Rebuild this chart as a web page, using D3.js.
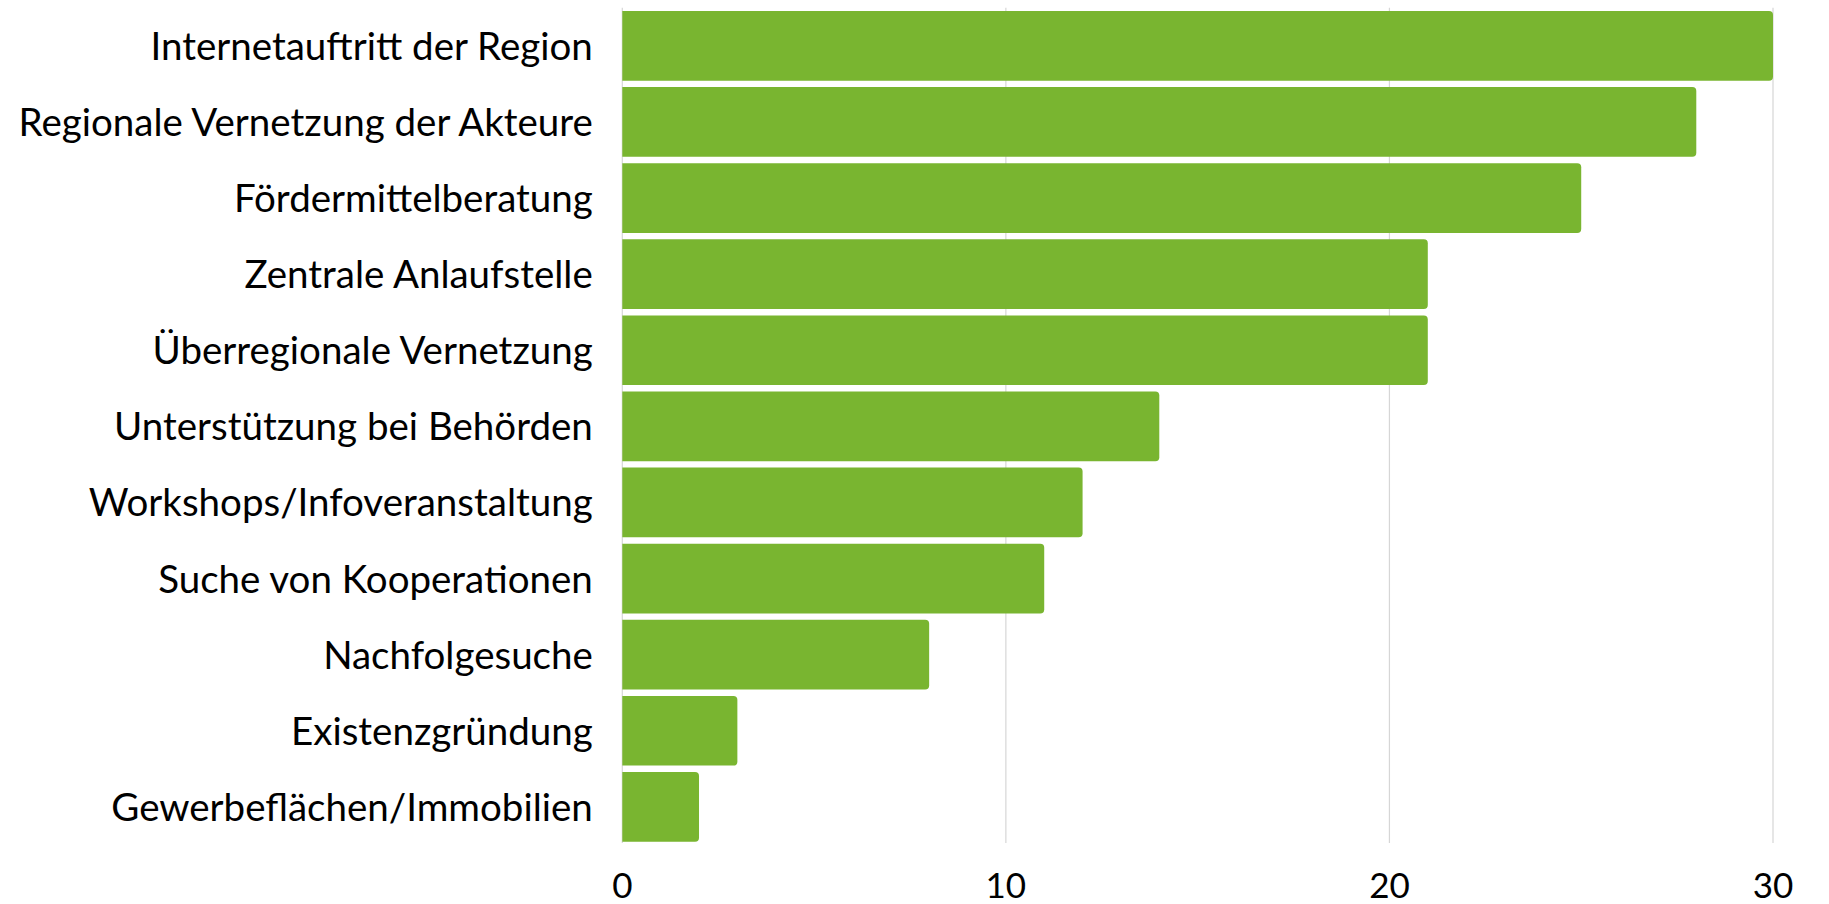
<!DOCTYPE html>
<html>
<head>
<meta charset="utf-8">
<script src="https://cdn.jsdelivr.net/npm/d3@7"></script>
<style>
  html, body { margin: 0; padding: 0; background: #fff; }
  svg { display: block; }
  text { font-family: "Source Sans Pro", Lato, "Noto Sans", sans-serif; fill: #000; }
</style>
</head>
<body>
<svg id="chart" width="1829" height="904"></svg>
<script>
// Angebote, sortiert nach Anzahl der Nennungen
const categories = [
  "Internetauftritt der Region",
  "Regionale Vernetzung der Akteure",
  "Fördermittelberatung",
  "Zentrale Anlaufstelle",
  "Überregionale Vernetzung",
  "Unterstützung bei Behörden",
  "Workshops/Infoveranstaltung",
  "Suche von Kooperationen",
  "Nachfolgesuche",
  "Existenzgründung",
  "Gewerbeflächen/Immobilien"
];
const values = [30, 28, 25, 21, 21, 14, 12, 11, 8, 3, 2];
const tickValues = [0, 10, 20, 30];

const svg = d3.select("#chart");
const plot = { left: 622.3, right: 1773, top: 7.8, bottom: 844.9 };

const x = d3.scaleLinear().domain([0, 30]).range([plot.left, plot.right]);
const y = d3.scaleBand()
  .domain(categories)
  .range([plot.top, plot.bottom])
  .paddingInner(0.084)
  .paddingOuter(0.042);

// vertical grid lines
svg.append("g")
  .selectAll("line")
  .data(tickValues)
  .join("line")
  .attr("x1", d => x(d)).attr("x2", d => x(d))
  .attr("y1", plot.top).attr("y2", plot.bottom - 2)
  .attr("stroke", "#d6d6d6")
  .attr("stroke-width", 1.2);

// bars with rounded right end
const r = 4;
function barPath(x0, x1, y0, h) {
  const w = x1 - x0;
  const rr = Math.min(r, w / 2, h / 2);
  return `M${x0},${y0}H${x1 - rr}Q${x1},${y0} ${x1},${y0 + rr}` +
         `V${y0 + h - rr}Q${x1},${y0 + h} ${x1 - rr},${y0 + h}H${x0}Z`;
}
svg.append("g")
  .selectAll("path")
  .data(categories.map((c, i) => ({ c, v: values[i] })))
  .join("path")
  .attr("d", d => barPath(x(0), x(d.v), y(d.c), y.bandwidth()))
  .attr("fill", "#79b530");

// category labels
svg.append("g")
  .selectAll("text")
  .data(categories)
  .join("text")
  .attr("x", plot.left - 29.5)
  .attr("y", d => y(d) + y.bandwidth() / 2 + 14)
  .attr("text-anchor", "end")
  .attr("font-size", 38.5)
  .text(d => d);

// value axis labels
svg.append("g")
  .selectAll("text")
  .data(tickValues)
  .join("text")
  .attr("x", d => x(d))
  .attr("y", 898)
  .attr("text-anchor", "middle")
  .attr("font-size", 35)
  .text(d => d);
</script>
</body>
</html>
